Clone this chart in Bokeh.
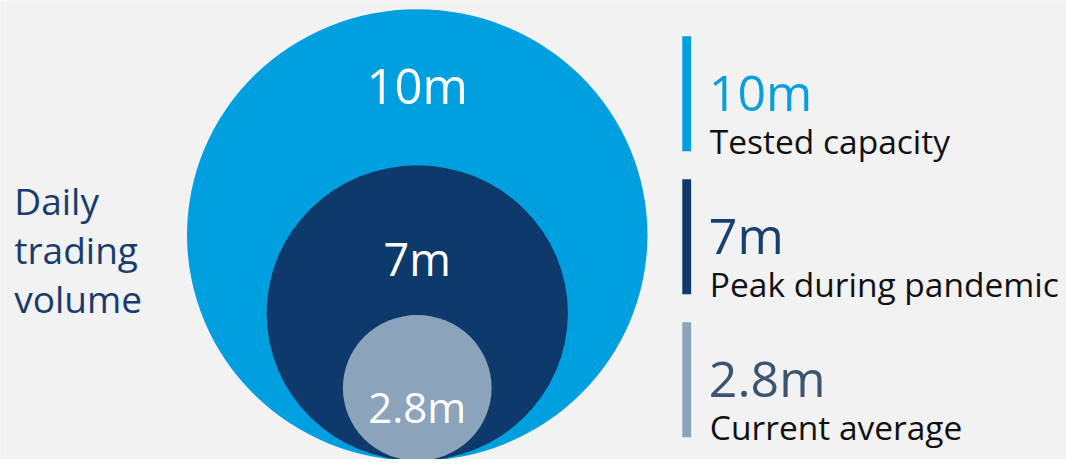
from bokeh.plotting import figure
from bokeh.models import Range1d, ColumnDataSource
from bokeh.core.properties import value
from bokeh.embed import file_html
from bokeh.resources import INLINE

# ---- data ----
categories = ["Tested capacity", "Peak during pandemic", "Current average"]
volumes_m = [10, 7, 2.8]
value_labels = ["10m", "7m", "2.8m"]
side_title = ["Daily", "trading", "volume"]

# ---- styles / layout (reference pixel space 1082 x 475) ----
BG = "#f2f2f2"
circle_colors = ["#009fdf", "#0d3a6b", "#8ca4bb"]
number_colors = ["#0a9fdc", "#173f70", "#3b5570"]
circle_radius = [233.7, 152.9, 75.5]
circle_cx = 423.0
circle_bottom = 476.4
circle_label_baseline = [87, 267, 420]
circle_label_size = ["49px", "45px", "42px"]
FONT = value("Open Sans")

REF_W, REF_H = 1082, 475
W, H = 1066, 459
p = figure(width=W, height=H, x_range=Range1d(0, REF_W), y_range=Range1d(REF_H, 0),
           output_backend="svg", toolbar_location=None, min_border=0)
p.axis.visible = False
p.grid.visible = False
p.outline_line_color = None
p.background_fill_color = BG
p.border_fill_color = BG

# circles, bottom aligned
cs = ColumnDataSource(dict(
    x=[circle_cx] * len(volumes_m),
    y=[circle_bottom - r for r in circle_radius],
    d=[2 * r for r in circle_radius],
    c=circle_colors,
    v=volumes_m,
))
p.ellipse(x="x", y="y", width="d", height="d", fill_color="c", line_color=None, source=cs)

# labels inside circles
for i, lab in enumerate(value_labels):
    p.text(x=[circle_cx], y=[circle_label_baseline[i]], text=[lab],
           text_font=FONT, text_font_size=circle_label_size[i], text_color="white",
           text_align="center", text_baseline="alphabetic")

# side title
for i, t in enumerate(side_title):
    p.text(x=[14], y=[207 + i * 50.5], text=[t], text_font=FONT,
           text_font_size="37px", text_color="#173c6d",
           text_align="left", text_baseline="alphabetic")

# legend blocks
bar_top0, bar_step, bar_h = 37, 148, 119
tops = [bar_top0 + i * bar_step for i in range(len(categories))]
p.quad(left=[692] * 3, right=[701] * 3, top=tops, bottom=[t + bar_h for t in tops],
       fill_color=circle_colors, line_color=None)
for i, (cat, lab) in enumerate(zip(categories, value_labels)):
    p.text(x=[719], y=[tops[i] + 58], text=[lab], text_font=FONT,
           text_font_size="50px", text_color=number_colors[i],
           text_align="left", text_baseline="alphabetic")
    p.text(x=[720], y=[tops[i] + 108], text=[cat], text_font=FONT,
           text_font_size="33.5px", text_color="#111111",
           text_align="left", text_baseline="alphabetic")

open("out.html", "w").write(file_html(p, INLINE))
